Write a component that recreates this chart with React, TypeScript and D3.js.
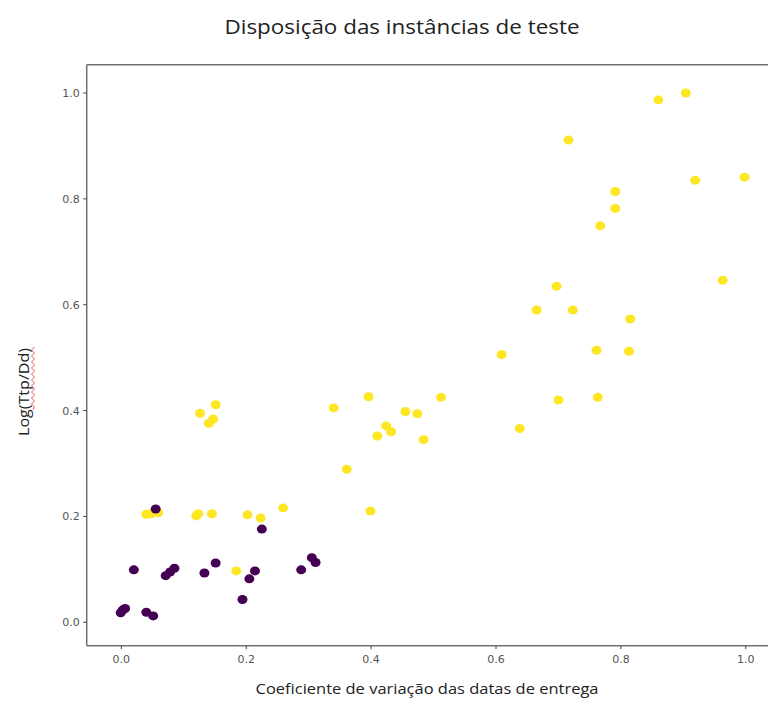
import React from "react";
import * as d3 from "d3";

const yellowX = [0.860, 0.904, 0.716, 0.791, 0.791, 0.767, 0.919, 0.998, 0.963, 0.697, 0.665, 0.723, 0.815, 0.609, 0.761, 0.813, 0.512, 0.455, 0.474, 0.424, 0.432, 0.410, 0.484, 0.638, 0.700, 0.763, 0.126, 0.151, 0.140, 0.147, 0.340, 0.396, 0.361, 0.399, 0.040, 0.047, 0.059, 0.120, 0.123, 0.145, 0.202, 0.223, 0.259, 0.184];
const yellowY = [0.987, 1.000, 0.911, 0.814, 0.782, 0.749, 0.835, 0.841, 0.646, 0.635, 0.590, 0.590, 0.573, 0.506, 0.514, 0.512, 0.425, 0.398, 0.394, 0.371, 0.360, 0.352, 0.345, 0.366, 0.420, 0.425, 0.395, 0.411, 0.376, 0.384, 0.405, 0.426, 0.289, 0.210, 0.204, 0.205, 0.207, 0.201, 0.205, 0.205, 0.203, 0.197, 0.216, 0.097];
const purpleX = [0.055, 0.225, 0.020, 0.071, 0.078, 0.085, 0.133, 0.151, 0.214, 0.205, 0.194, 0.288, 0.305, 0.311, 0.002, -0.001, 0.006, 0.040, 0.051];
const purpleY = [0.214, 0.176, 0.099, 0.088, 0.095, 0.102, 0.093, 0.112, 0.097, 0.082, 0.043, 0.099, 0.122, 0.113, 0.023, 0.018, 0.026, 0.019, 0.012];
const xTicks = [0.0, 0.2, 0.4, 0.6, 0.8, 1.0];
const yTicks = [0.0, 0.2, 0.4, 0.6, 0.8, 1.0];

const W = 768, H = 708;
const left = 86.7, right = 777, top = 64.7, bottom = 645.7;

export default function App() {
  const x = d3.scaleLinear().domain([-0.0555, 1.05]).range([left, right]);
  const y = d3.scaleLinear().domain([-0.0443, 1.0535]).range([bottom, top]);
  const yellow = yellowX.map((v, i) => [v, yellowY[i]]);
  const purple = purpleX.map((v, i) => [v, purpleY[i]]);
  const axisColor = "#6e6e6e";
  const tickFont = "'DejaVu Sans', sans-serif";
  const labelFont = "'Open Sans', sans-serif";
  const sqX = 33, sqY0 = 349, sqY1 = 410;
  let sq = `M${sqX},${sqY1}`;
  for (let yy = sqY1, k = 0; yy > sqY0; yy -= 3, k++) {
    sq += ` L${sqX + (k % 2 === 0 ? 1.5 : -1.5)},${yy - 3}`;
  }
  return (
    <svg width={W} height={H} style={{ position: "absolute", left: 0, top: 0, background: "#fff" }}>
      <rect width={W} height={H} fill="#fff" />
      <text x={402} y={34} textAnchor="middle" fontFamily={labelFont} fontSize={20} fill="#222" textLength={355} lengthAdjust="spacingAndGlyphs">Disposição das instâncias de teste</text>
      {yellow.map((d, i) => (
        <ellipse key={"y" + i} cx={x(d[0])} cy={y(d[1])} rx={5} ry={4.5} fill="#fde725" />
      ))}
      {purple.map((d, i) => (
        <ellipse key={"p" + i} cx={x(d[0])} cy={y(d[1])} rx={5} ry={4.5} fill="#440154" />
      ))}
      <line x1={left} x2={left} y1={top} y2={bottom} stroke={axisColor} strokeWidth={1.5} />
      <line x1={left} x2={right} y1={bottom} y2={bottom} stroke={axisColor} strokeWidth={1.5} />
      <line x1={left} x2={right} y1={top} y2={top} stroke={axisColor} strokeWidth={1.5} />
      {xTicks.map((t) => (
        <g key={"xt" + t}>
          <line x1={x(t)} x2={x(t)} y1={bottom} y2={bottom + 3.5} stroke="#444" strokeWidth={1} />
          <text x={x(t)} y={bottom + 17} textAnchor="middle" fontFamily={tickFont} fontSize={11} fill="#555">{t.toFixed(1)}</text>
        </g>
      ))}
      {yTicks.map((t) => (
        <g key={"yt" + t}>
          <line x1={left - 3.5} x2={left} y1={y(t)} y2={y(t)} stroke="#444" strokeWidth={1} />
          <text x={left - 7} y={y(t) + 4} textAnchor="end" fontFamily={tickFont} fontSize={11} fill="#555">{t.toFixed(1)}</text>
        </g>
      ))}
      <text x={427} y={694} textAnchor="middle" fontFamily={labelFont} fontSize={14} fill="#222" textLength={343} lengthAdjust="spacingAndGlyphs">Coeficiente de variação das datas de entrega</text>
      <text transform="translate(29,392) rotate(-90)" textAnchor="middle" fontFamily={labelFont} fontSize={14} fill="#222" textLength={88} lengthAdjust="spacingAndGlyphs">Log(Ttp/Dd)</text>
      <path d={sq} fill="none" stroke="#e03030" strokeWidth={0.8} />
    </svg>
  );
}
